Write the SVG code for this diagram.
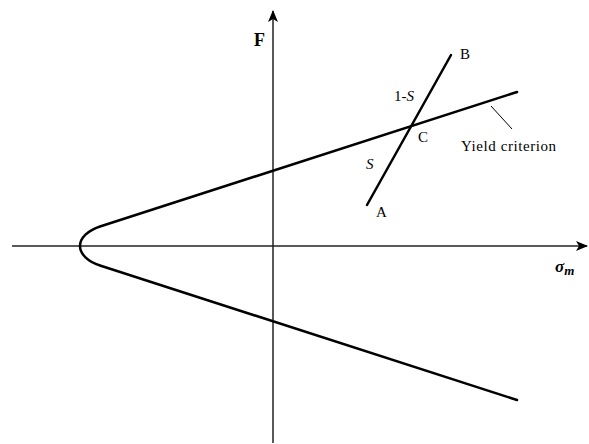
<svg xmlns="http://www.w3.org/2000/svg" width="589" height="444" viewBox="0 0 589 444">
<style>
.axis{stroke:#222;stroke-width:1.5;fill:none}
.thick{stroke:#000;stroke-width:2.5;fill:none;stroke-linecap:round;stroke-linejoin:round}
.lbl{font-family:"Liberation Serif",serif;font-size:15px;fill:#000}
</style>
<defs>
<marker id="ah" markerWidth="12" markerHeight="10" refX="11" refY="5" orient="auto" markerUnits="userSpaceOnUse">
<path d="M0,0 L12,5 L0,10 L3,5 Z" fill="#000"/>
</marker>
</defs>
<g id="connectors">
<line class="axis" x1="12" y1="246" x2="587" y2="246" marker-end="url(#ah)"/>
<line class="axis" x1="273" y1="443" x2="273" y2="11" marker-end="url(#ah)"/>
<path id="yield-criterion" class="thick" d="M517,92 L100,226.5 C88,230.4 80,238 80,246 C80,254 88,261.6 100,265.5 L517,400"/>
<line id="AB" class="thick" x1="367" y1="205" x2="451" y2="55"/>
<line stroke="#000" stroke-width="1" x1="491" y1="106" x2="512" y2="129"/>
</g>
<g id="labels">
<text x="254" y="46" font-family="Liberation Serif,serif" font-size="18" font-weight="bold">F</text>
<text x="555" y="272" font-family="Liberation Serif,serif" font-size="17" font-weight="bold" font-style="italic">σ<tspan font-size="13" dy="3">m</tspan></text>
<text class="lbl" x="460" y="59">B</text>
<text class="lbl" x="394" y="101">1-<tspan font-style="italic">S</tspan></text>
<text class="lbl" x="418" y="142">C</text>
<text class="lbl" x="461" y="151" font-size="16" textLength="95" lengthAdjust="spacing">Yield criterion</text>
<text class="lbl" x="366" y="169" font-style="italic">S</text>
<text class="lbl" x="376" y="217">A</text>
</g>
</svg>
